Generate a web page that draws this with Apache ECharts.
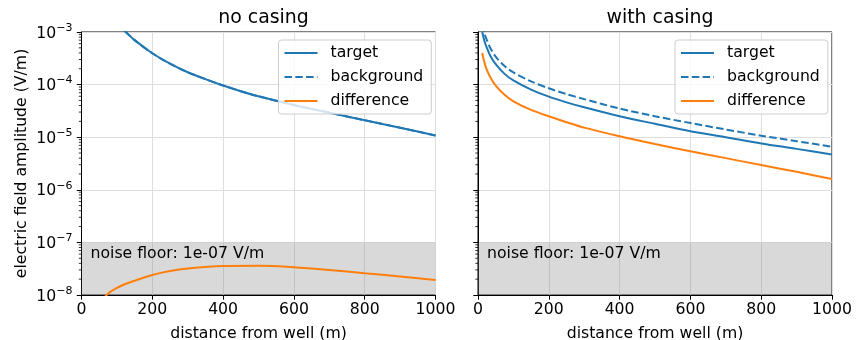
<!DOCTYPE html>
<html>
<head>
<meta charset="utf-8">
<script src="https://cdn.jsdelivr.net/npm/echarts@6/dist/echarts.min.js"></script>
<style>html,body{margin:0;padding:0;background:#fff}#c{width:856px;height:340px}</style>
</head>
<body>
<div id="c"></div>
<script>
// ---- data ----
const leftDist = [100, 125, 150, 200, 250, 300, 350, 400, 450, 500, 600, 700, 800, 900, 1000];
const leftTarget = [1.4e-3, 1.0e-3, 7.0e-4, 3.95e-4, 2.5e-4, 1.72e-4, 1.27e-4, 9.6e-5, 7.5e-5, 6.0e-5, 4.1e-5, 2.92e-5, 2.1e-5, 1.51e-5, 1.08e-5];
const leftBackground = [1.4e-3, 1.0e-3, 7.0e-4, 3.95e-4, 2.5e-4, 1.72e-4, 1.27e-4, 9.6e-5, 7.5e-5, 6.0e-5, 4.1e-5, 2.92e-5, 2.1e-5, 1.51e-5, 1.08e-5];
const leftDiffDist = [50, 71, 100, 150, 200, 250, 300, 400, 500, 600, 700, 800, 900, 1000];
const leftDifference = [6e-9, 1.0e-8, 1.37e-8, 1.87e-8, 2.4e-8, 2.85e-8, 3.18e-8, 3.55e-8, 3.6e-8, 3.38e-8, 3.0e-8, 2.6e-8, 2.25e-8, 1.93e-8];

const rightDist = [12, 18, 25, 35, 50, 75, 100, 150, 200, 250, 300, 400, 500, 600, 700, 800, 900, 1000];
const rightTarget = [1.0e-3, 6.8e-4, 5.0e-4, 3.5e-4, 2.45e-4, 1.6e-4, 1.2e-4, 8.0e-5, 5.9e-5, 4.6e-5, 3.7e-5, 2.5e-5, 1.8e-5, 1.3e-5, 1.0e-5, 7.6e-6, 6.0e-6, 4.7e-6];
const rightBackground = [1.4e-3, 9.5e-4, 7.0e-4, 4.9e-4, 3.4e-4, 2.25e-4, 1.7e-4, 1.15e-4, 8.5e-5, 6.6e-5, 5.3e-5, 3.5e-5, 2.5e-5, 1.86e-5, 1.4e-5, 1.07e-5, 8.4e-6, 6.6e-6];
const rightDifference = [4.0e-4, 2.65e-4, 1.9e-4, 1.37e-4, 9.6e-5, 6.4e-5, 4.8e-5, 3.3e-5, 2.5e-5, 1.93e-5, 1.52e-5, 1.04e-5, 7.4e-6, 5.4e-6, 4.0e-6, 2.95e-6, 2.2e-6, 1.6e-6];

const noiseFloor = 1e-7;
const yMin = 1e-8, yMax = 1e-3;
const titles = ['no casing', 'with casing'];
const legendNames = ['target', 'background', 'difference'];
const xLabel = 'distance from well (m)';
const yLabel = 'electric field amplitude (V/m)';
const noiseText = 'noise floor: 1e-07 V/m';

// ---- chart ----
const FONT = 'DejaVu Sans';
const FS = 15.7, TFS = 18.9;
const BLUE = '#1f77b4', ORANGE = '#ff7f0e';
const minorVals = [];
for (let e = -8; e < -3; e++) for (let m = 2; m <= 9; m++) minorVals.push(m * Math.pow(10, e));

const zip = (xs, ys) => xs.map((x, i) => [x, ys[i]]);
const grids = [
  {left: 81.5, top: 32, width: 354, height: 263},
  {left: 478, top: 32, width: 354, height: 263}
];

function xAxisFor(i) {
  return {
    type: 'value', gridIndex: i, min: 0, max: 1000, interval: 200,
    name: xLabel, nameLocation: 'middle', nameGap: 31,
    nameTextStyle: {fontFamily: FONT, fontSize: FS, color: '#000'},
    axisLine: {show: true, onZero: false, lineStyle: {color: '#000', width: 1}},
    axisTick: {show: true, length: 4.7, lineStyle: {color: '#000', width: 1}},
    axisLabel: {fontFamily: FONT, fontSize: FS, color: '#000', margin: 7, formatter: v => String(v)},
    splitLine: {show: true, lineStyle: {color: '#dedede', width: 1}}
  };
}
function yAxisFor(i) {
  return {
    type: 'log', logBase: 10, gridIndex: i, min: yMin, max: yMax,
    name: i === 0 ? yLabel : '', nameLocation: 'middle', nameGap: 52, nameRotate: 90,
    nameTextStyle: {fontFamily: FONT, fontSize: FS, color: '#000'},
    axisLine: {show: true, lineStyle: {color: '#000', width: 1}},
    axisTick: {show: true, length: 4.7, lineStyle: {color: '#000', width: 1}},
    axisLabel: {
      show: i === 0, margin: 9,
      formatter: v => '{b|10}{s|\u2212' + Math.abs(Math.round(Math.log10(v))) + '}',
      rich: {
        b: {fontFamily: FONT, fontSize: FS, color: '#000', lineHeight: 19, verticalAlign: 'bottom'},
        s: {fontFamily: FONT, fontSize: 11, color: '#000', lineHeight: 11, verticalAlign: 'top'}
      }
    },
    splitLine: {show: true, lineStyle: {color: '#dedede', width: 1}}
  };
}
function minorTickSeries(i) {
  return {
    type: 'custom', xAxisIndex: i, yAxisIndex: i, silent: true, clip: false, z: 5,
    data: minorVals.map(v => [0, v]),
    renderItem: (params, api) => {
      const p = api.coord([api.value(0), api.value(1)]);
      return {type: 'line', shape: {x1: p[0] - 2.7, y1: p[1], x2: p[0], y2: p[1]},
              style: {stroke: '#000', lineWidth: 0.8}};
    }
  };
}
function lineSeries(name, i, data, color, dashed, extra) {
  return Object.assign({
    name, type: 'line', xAxisIndex: i, yAxisIndex: i, data,
    showSymbol: false, symbol: 'none', smooth: 0.3, clip: true, silent: true,
    lineStyle: {color, width: 2, type: dashed ? [7.5, 3.3] : 'solid'},
    itemStyle: {color}
  }, extra || {});
}
function noiseArea() {
  return {
    silent: true,
    itemStyle: {color: 'rgba(128,128,128,0.3)'},
    label: {show: true, position: 'insideTopLeft', distance: 0, offset: [9, 4],
            formatter: noiseText, fontFamily: FONT, fontSize: FS, color: '#000'},
    data: [[{yAxis: noiseFloor}, {yAxis: yMin}]]
  };
}
function legendFor(left) {
  return {
    data: legendNames, orient: 'vertical', left, top: 40,
    itemWidth: 33, itemHeight: 14, itemGap: 8,
    padding: [5, 8, 5, 5],
    itemStyle: {opacity: 0},
    backgroundColor: 'rgba(255,255,255,0.8)', borderColor: '#cccccc', borderWidth: 1, borderRadius: 3,
    textStyle: {fontFamily: FONT, fontSize: FS, color: '#000', padding: [0, 0, 0, 8]},
    selectedMode: false
  };
}

const option = {
  animation: false,
  backgroundColor: '#fff',
  title: titles.map((t, i) => ({
    text: t, left: i === 0 ? 258.5 : 655, top: 4, textAlign: 'center',
    textStyle: {fontFamily: FONT, fontSize: TFS, fontWeight: 'normal', color: '#000'}
  })),
  legend: [legendFor(278.5), legendFor(675)],
  grid: grids.map(g => Object.assign({show: true, borderColor: '#000', borderWidth: 1, backgroundColor: 'transparent', containLabel: false, outerBoundsMode: 'none'}, g)),
  xAxis: [xAxisFor(0), xAxisFor(1)],
  yAxis: [yAxisFor(0), yAxisFor(1)],
  series: [
    lineSeries('target', 0, zip(leftDist, leftTarget), BLUE, false, {markArea: noiseArea()}),
    lineSeries('background', 0, zip(leftDist, leftBackground), BLUE, true),
    lineSeries('difference', 0, zip(leftDiffDist, leftDifference), ORANGE, false),
    lineSeries('target', 1, zip(rightDist, rightTarget), BLUE, false, {markArea: noiseArea()}),
    lineSeries('background', 1, zip(rightDist, rightBackground), BLUE, true),
    lineSeries('difference', 1, zip(rightDist, rightDifference), ORANGE, false),
    minorTickSeries(0), minorTickSeries(1)
  ]
};
const chart = echarts.init(document.getElementById('c'), null, {renderer: 'canvas'});
chart.setOption(option);
</script>
</body>
</html>
